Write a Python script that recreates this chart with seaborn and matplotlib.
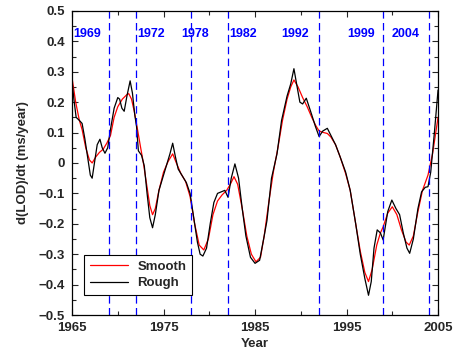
import numpy as np
import pandas as pd
import matplotlib
matplotlib.use("Agg")
import matplotlib.pyplot as plt
import seaborn as sns
from matplotlib.ticker import MultipleLocator, FixedLocator

# rough (black) curve
rough_year = [1965.0, 1965.2, 1965.45, 1965.8, 1966.1, 1966.4, 1966.8, 1967.0, 1967.2, 1967.45,
              1967.75, 1968.05, 1968.3, 1968.6, 1968.9, 1969.2, 1969.6, 1970.0, 1970.2, 1970.45,
              1970.7, 1971.0, 1971.35, 1971.6, 1971.85, 1972.05, 1972.25, 1972.6, 1972.9, 1973.2,
              1973.5, 1973.8, 1974.1, 1974.5, 1974.9, 1975.3, 1975.7, 1976.0, 1976.3, 1976.6,
              1977.0, 1977.5, 1977.9, 1978.3, 1978.7, 1979.0, 1979.3, 1979.7, 1980.1, 1980.5,
              1980.9, 1981.3, 1981.7, 1982.05, 1982.4, 1982.8, 1983.2, 1983.6, 1984.0, 1984.5,
              1985.0, 1985.5, 1986.0, 1986.3, 1986.8, 1987.4, 1987.9, 1988.5, 1988.9, 1989.25,
              1989.6, 1989.9, 1990.2, 1990.6, 1991.2, 1991.6, 1992.0, 1992.4, 1992.9, 1993.3,
              1993.8, 1994.3, 1994.9, 1995.4, 1996.0, 1996.5, 1997.0, 1997.4, 1997.7, 1998.0,
              1998.35, 1998.7, 1999.0, 1999.5, 1999.95, 2000.4, 2000.8, 2001.2, 2001.6, 2001.9,
              2002.3, 2002.8, 2003.2, 2003.6, 2003.9, 2004.2, 2004.6, 2005.0]
rough_val = [0.27, 0.21, 0.15, 0.14, 0.13, 0.08, 0.0, -0.04, -0.05, 0.0,
             0.06, 0.078, 0.05, 0.032, 0.05, 0.11, 0.18, 0.215, 0.21, 0.18,
             0.17, 0.22, 0.27, 0.23, 0.16, 0.12, 0.04, 0.025, -0.01, -0.1,
             -0.18, -0.213, -0.17, -0.09, -0.05, -0.01, 0.03, 0.065, 0.02, -0.02,
             -0.04, -0.065, -0.1, -0.18, -0.26, -0.3, -0.306, -0.28, -0.2, -0.13,
             -0.10, -0.095, -0.09, -0.113, -0.05, -0.003, -0.05, -0.15, -0.24, -0.31,
             -0.33, -0.32, -0.24, -0.19, -0.05, 0.03, 0.14, 0.22, 0.26, 0.31,
             0.25, 0.2, 0.194, 0.213, 0.158, 0.12, 0.087, 0.105, 0.114, 0.09,
             0.06, 0.02, -0.03, -0.09, -0.2, -0.3, -0.38, -0.435, -0.39, -0.28,
             -0.22, -0.23, -0.253, -0.16, -0.122, -0.15, -0.17, -0.23, -0.28, -0.297,
             -0.25, -0.15, -0.095, -0.08, -0.078, -0.03, 0.1, 0.24]

# smooth (red) curve
smooth_year = [1965.0, 1965.4, 1965.8, 1966.1, 1966.5, 1966.9, 1967.2, 1967.6, 1968.0, 1968.4,
               1968.8, 1969.2, 1969.6, 1970.0, 1970.5, 1971.0, 1971.2, 1971.5, 1971.8, 1972.1,
               1972.5, 1972.8, 1973.2, 1973.5, 1973.8, 1974.1, 1974.5, 1975.0, 1975.5, 1976.0,
               1976.4, 1976.9, 1977.4, 1977.9, 1978.4, 1978.9, 1979.4, 1979.9, 1980.4, 1980.9,
               1981.4, 1981.9, 1982.3, 1982.7, 1983.1, 1983.6, 1984.1, 1984.6, 1985.1, 1985.6,
               1986.0, 1986.5, 1987.0, 1987.5, 1988.0, 1988.5, 1988.9, 1989.25, 1989.7, 1990.2,
               1990.7, 1991.2, 1991.6, 1992.0, 1992.5, 1992.9, 1993.3, 1993.8, 1994.3, 1994.9,
               1995.4, 1996.0, 1996.5, 1997.0, 1997.4, 1997.8, 1998.3, 1998.7, 1999.0, 1999.5,
               2000.0, 2000.5, 2001.0, 2001.5, 2001.85, 2002.3, 2002.8, 2003.3, 2003.9, 2004.4,
               2005.0]
smooth_val = [0.28, 0.2, 0.14, 0.11, 0.05, 0.01, 0.0, 0.02, 0.035, 0.045,
              0.065, 0.09, 0.15, 0.185, 0.21, 0.225, 0.228, 0.21, 0.17, 0.12,
              0.05, 0.0, -0.08, -0.14, -0.17, -0.15, -0.09, -0.03, 0.005, 0.03,
              0.0, -0.035, -0.06, -0.11, -0.2, -0.27, -0.286, -0.25, -0.17, -0.125,
              -0.105, -0.09, -0.07, -0.045, -0.07, -0.15, -0.24, -0.3, -0.325, -0.31,
              -0.24, -0.13, -0.03, 0.05, 0.14, 0.21, 0.25, 0.273, 0.25, 0.215,
              0.185, 0.15, 0.125, 0.105, 0.1, 0.097, 0.085, 0.06, 0.02, -0.035,
              -0.09, -0.2, -0.29, -0.36, -0.39, -0.35, -0.27, -0.23, -0.21, -0.165,
              -0.144, -0.17, -0.22, -0.26, -0.27, -0.24, -0.16, -0.09, -0.04, 0.03,
              0.15]

event_years = [1969, 1972, 1978, 1982, 1992, 1999, 2004]
event_label_x = [1965.1, 1972.1, 1976.9, 1982.2, 1987.9, 1995.1, 1999.9]

xtick_major = [1965, 1975, 1985, 1995, 2005]
xtick_minor = [1970, 1980, 1990, 2000]

sns.set_style("ticks")
plt.rcParams["font.family"] = ["Liberation Sans", "DejaVu Sans"]
plt.rcParams["font.weight"] = "bold"

fig = plt.figure(figsize=(4.53, 3.52), dpi=100)
ax = fig.add_axes([0.159, 0.105, 0.808, 0.864])

df_s = pd.DataFrame({"year": smooth_year, "val": smooth_val})
df_r = pd.DataFrame({"year": rough_year, "val": rough_val})
sns.lineplot(data=df_s, x="year", y="val", color="red", lw=0.9, label="Smooth", ax=ax)
sns.lineplot(data=df_r, x="year", y="val", color="black", lw=0.9, label="Rough", ax=ax)

for yr, lx in zip(event_years, event_label_x):
    ax.axvline(yr, color="blue", lw=0.9, ls=(0, (6, 3.5)))
    ax.text(lx, 0.424, str(yr), color="blue", fontsize=9, fontweight="bold",
            ha="left", va="center")

ax.set_xlim(1965, 2005)
ax.set_ylim(-0.5, 0.5)
ax.xaxis.set_major_locator(FixedLocator(xtick_major))
ax.xaxis.set_minor_locator(FixedLocator(xtick_minor))
ax.yaxis.set_major_locator(MultipleLocator(0.1))
ax.yaxis.set_minor_locator(MultipleLocator(0.05))
ax.set_yticklabels([("%.1f" % v).replace("-", "\u2212") if abs(v) > 1e-9 else "0"
                    for v in ax.get_yticks()])
ax.tick_params(which="both", direction="in", top=True, right=True, labelsize=9.5,
               width=0.8, pad=5)
ax.tick_params(which="major", length=4)
ax.tick_params(which="minor", length=3)
for lab in ax.get_xticklabels() + ax.get_yticklabels():
    lab.set_fontweight("bold")
for s in ax.spines.values():
    s.set_linewidth(0.9)
    s.set_color("black")

ax.set_xlabel("Year", fontsize=9.5, fontweight="bold", labelpad=3)
ax.set_ylabel("d(LOD)/dt (ms/year)", fontsize=9.5, fontweight="bold", labelpad=7)

leg = ax.legend(loc="lower left", bbox_to_anchor=(0.015, 0.044), fancybox=False,
                framealpha=1, edgecolor="black", fontsize=9.5, handlelength=2.9,
                borderpad=0.45, labelspacing=0.3, handletextpad=0.7)
leg.get_frame().set_linewidth(0.8)
for t in leg.get_texts():
    t.set_fontweight("bold")

fig.savefig("out.png", dpi=100)
